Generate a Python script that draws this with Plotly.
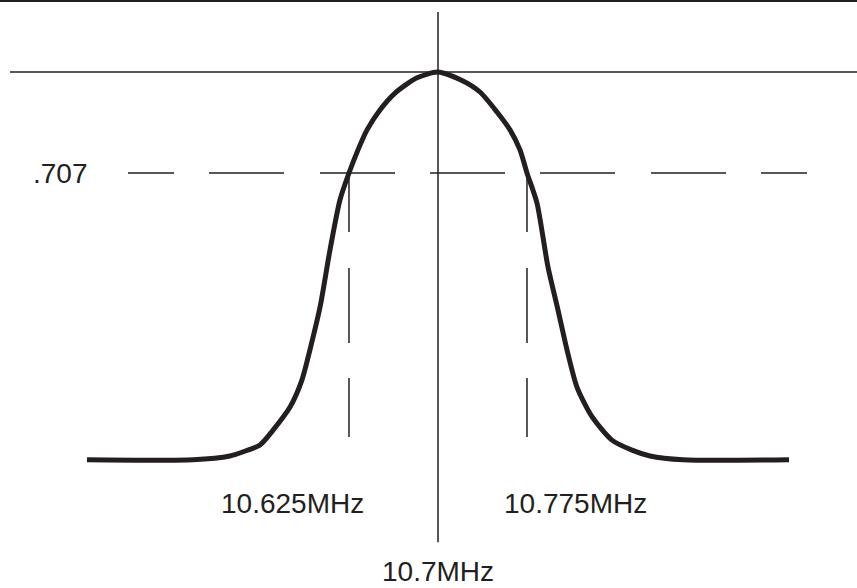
import plotly.graph_objects as go

# Normalised response of the 10.7 MHz IF filter (peak = 1.0)
freq_mhz = [10.4042, 10.4935, 10.5247, 10.5357, 10.5500, 10.5610, 10.5753,
            10.5854, 10.5921, 10.6006, 10.6090, 10.6174, 10.6250, 10.6326,
            10.6402, 10.6511, 10.6638, 10.6823, 10.7000, 10.7211, 10.7354,
            10.7497, 10.7607, 10.7691, 10.7750, 10.7834, 10.7927, 10.8011,
            10.8087, 10.8171, 10.8298, 10.8466, 10.8635, 10.8787, 10.9065,
            10.9958]
response = [-0.125, -0.125, -0.114, -0.102, -0.082, -0.039, 0.028,
            0.107, 0.194, 0.318, 0.484, 0.629, 0.707, 0.774,
            0.832, 0.890, 0.939, 0.983, 1.000, 0.974, 0.942,
            0.884, 0.832, 0.774, 0.707, 0.620, 0.434, 0.310,
            0.194, 0.086, 0.000, -0.068, -0.097, -0.114, -0.125,
            -0.125]

center_freq = 10.7
half_power_freqs = [10.625, 10.775]
half_power_level = 0.707
peak_level = 1.0
floor_level = -0.059     # lower end of the half-power drop lines
center_line_span = [1.174, -0.364]

freq_labels = ["10.625MHz", "10.775MHz"]
freq_label_pos = [10.5778, 10.8155]
center_label = "10.7MHz"
level_label = ".707"

x_range = [10.3309, 11.0531]
y_range = [-0.4970, 1.2089]

INK = "#231f20"
FONT = dict(family="Liberation Sans, Arial, Helvetica, sans-serif", size=28, color=INK)

fig = go.Figure()

# reference level at the peak
fig.add_trace(go.Scatter(x=[10.3393, x_range[1]], y=[peak_level, peak_level],
                         mode="lines", line=dict(color=INK, width=1.5),
                         hoverinfo="skip"))
# centre-frequency marker
fig.add_trace(go.Scatter(x=[center_freq, center_freq], y=center_line_span,
                         mode="lines", line=dict(color=INK, width=1.5),
                         hoverinfo="skip"))
# half-power level
fig.add_trace(go.Scatter(x=[10.4388, 11.0118], y=[half_power_level, half_power_level],
                         mode="lines",
                         line=dict(color=INK, width=1.5,
                                   dash="46px,35px,75px,36px,75px,35px,75px,35px,"
                                        "75px,36px,75px,35px,46px"),
                         hoverinfo="skip"))
# half-power frequencies
for f in half_power_freqs:
    fig.add_trace(go.Scatter(x=[f, f], y=[half_power_level, floor_level],
                             mode="lines",
                             line=dict(color=INK, width=1.5,
                                       dash="59px,36px,75px,35px,59px"),
                             hoverinfo="skip"))

# filter response curve
fig.add_trace(go.Scatter(x=freq_mhz, y=response, mode="lines",
                         line=dict(color=INK, width=5, shape="spline",
                                   smoothing=0.7),
                         hoverinfo="skip"))

# frame line along the top edge
fig.add_shape(type="line", xref="paper", yref="paper", x0=0, x1=1, y0=1, y1=1,
              line=dict(color=INK, width=4))

fig.add_annotation(x=10.3823, y=half_power_level, text=level_label,
                   showarrow=False, font=FONT)
for f, t in zip(freq_label_pos, freq_labels):
    fig.add_annotation(x=f, y=-0.2504, text=t, showarrow=False, font=FONT)
fig.add_annotation(x=center_freq, y=-0.4477, text=center_label,
                   showarrow=False, font=FONT)

fig.update_layout(
    width=857, height=588,
    margin=dict(l=0, r=0, t=0, b=0),
    paper_bgcolor="white", plot_bgcolor="white",
    showlegend=False,
    xaxis=dict(range=x_range, visible=False, fixedrange=True),
    yaxis=dict(range=y_range, visible=False, fixedrange=True),
)

fig.write_html("out.html")
